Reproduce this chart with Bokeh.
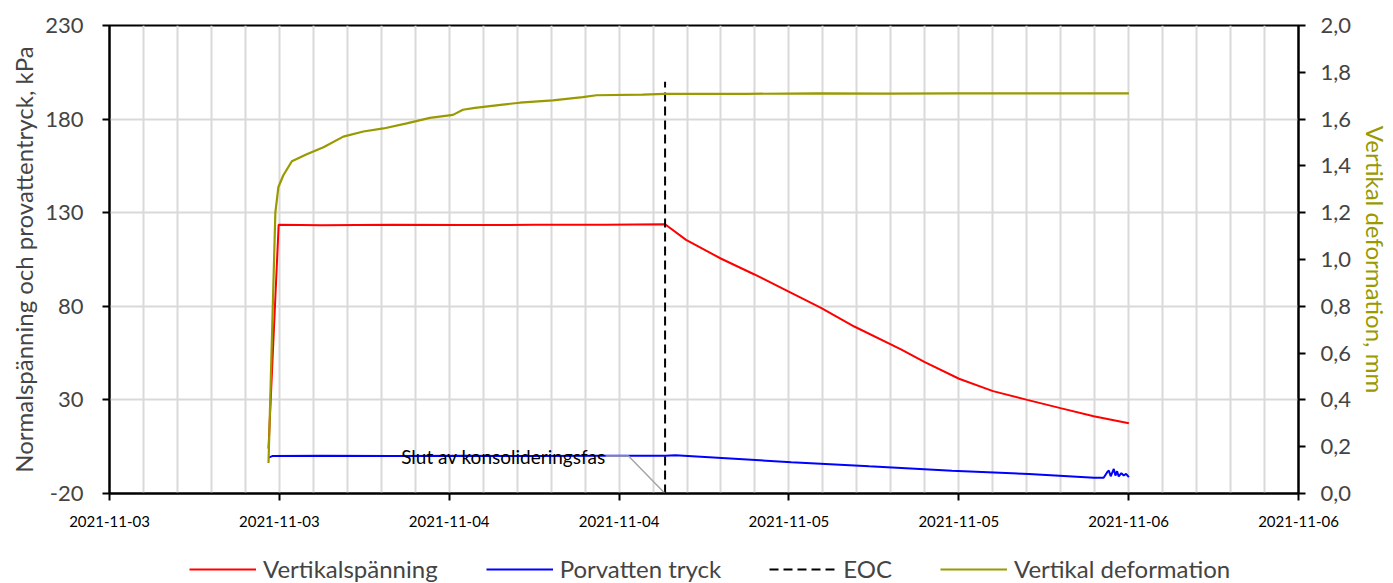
import pandas as pd
from bokeh.plotting import figure
from bokeh.layouts import column
from bokeh.models import (Range1d, LinearAxis, FixedTicker, DatetimeTickFormatter,
                          CustomJSTickFormatter, Legend, LegendItem, Label, ColumnDataSource)
from bokeh.embed import file_html
from bokeh.resources import INLINE

FONT = "Lato"

# ---------------- data ----------------
RED_T = ["2021-11-03 11:14", "2021-11-03 11:57", "2021-11-03 15:00", "2021-11-03 20:00",
         "2021-11-04 01:00", "2021-11-04 06:00", "2021-11-04 11:00", "2021-11-04 15:15",
         "2021-11-04 16:44", "2021-11-04 19:13", "2021-11-04 21:34", "2021-11-04 23:55",
         "2021-11-05 02:16", "2021-11-05 04:37", "2021-11-05 07:55", "2021-11-05 09:36",
         "2021-11-05 12:01", "2021-11-05 14:25", "2021-11-05 16:50", "2021-11-05 19:11",
         "2021-11-05 21:32", "2021-11-06 00:01"]
RED_V = [4, 123.5, 123.3, 123.6, 123.4, 123.5, 123.6, 123.8, 115.5, 105.4, 97.0, 88.1,
         79.2, 69.2, 57.0, 50.2, 41.3, 34.7, 30.0, 25.6, 21.3, 17.5]

BLUE_T = ["2021-11-03 11:14", "2021-11-03 11:30", "2021-11-03 15:00", "2021-11-03 20:00",
          "2021-11-04 01:00", "2021-11-04 06:00", "2021-11-04 11:00", "2021-11-04 15:15",
          "2021-11-04 15:59", "2021-11-05 00:10", "2021-11-05 05:40", "2021-11-05 11:31",
          "2021-11-05 16:57", "2021-11-05 21:34", "2021-11-05 22:14", "2021-11-05 22:29",
          "2021-11-05 22:36", "2021-11-05 22:44", "2021-11-05 22:57", "2021-11-05 23:04",
          "2021-11-05 23:11", "2021-11-05 23:18", "2021-11-05 23:29", "2021-11-05 23:39",
          "2021-11-05 23:49", "2021-11-06 00:01"]
BLUE_V = [-0.8, 0.0, 0.1, 0.0, 0.1, 0.0, 0.1, 0.1, 0.4, -3.3, -5.5, -7.8, -9.6, -11.6,
          -11.6, -8.6, -7.7, -10.8, -6.9, -10.4, -8.1, -10.9, -9.1, -10.4, -9.5, -11.3]

DEF_T = ["2021-11-03 11:14", "2021-11-03 11:30", "2021-11-03 11:43", "2021-11-03 11:56",
         "2021-11-03 12:17", "2021-11-03 12:53", "2021-11-03 13:56", "2021-11-03 15:07",
         "2021-11-03 16:31", "2021-11-03 17:56", "2021-11-03 19:21", "2021-11-03 21:00",
         "2021-11-03 22:38", "2021-11-04 00:16", "2021-11-04 00:58", "2021-11-04 01:49",
         "2021-11-04 03:47", "2021-11-04 04:59", "2021-11-04 07:19", "2021-11-04 09:26",
         "2021-11-04 10:24", "2021-11-04 13:40", "2021-11-04 15:13", "2021-11-04 21:00",
         "2021-11-05 02:00", "2021-11-05 07:00", "2021-11-05 12:00", "2021-11-05 17:00",
         "2021-11-06 00:01"]
DEF_V = [0.13, 0.72, 1.20, 1.31, 1.36, 1.42, 1.45, 1.48, 1.525, 1.547, 1.56, 1.582, 1.605,
         1.618, 1.64, 1.648, 1.662, 1.67, 1.68, 1.694, 1.702, 1.705, 1.708, 1.708, 1.71,
         1.709, 1.71, 1.71, 1.71]

EOC_T = "2021-11-04 15:15"
EOC_Y = [-20, 200]

NOTE_TEXT = "Slut av konsolideringsfas"
NOTE_T = "2021-11-04 11:03"
NOTE_KNEE_T = "2021-11-04 12:40"
NOTE_Y = 0

X_START = "2021-11-03 00:00"
X_END = "2021-11-06 12:00"
Y_LEFT = (-20, 230)
Y_LEFT_TICKS = [-20, 30, 80, 130, 180, 230]
Y_RIGHT = (0, 2.0)
Y_RIGHT_TICKS = [0, 0.2, 0.4, 0.6, 0.8, 1.0, 1.2, 1.4, 1.6, 1.8, 2.0]

LABELS = ["Vertikalspänning", "Porvatten tryck", "EOC", "Vertikal deformation"]
LEFT_TITLE = "Normalspänning och provattentryck, kPa"
RIGHT_TITLE = "Vertikal deformation, mm"

RED = "#ff0000"
BLUE = "#0000ff"
OLIVE = "#999900"
GRID = "#d9d9d9"
EOC_DASH = "9 5"


def ms(s):
    return pd.Timestamp(s).value / 1e6


x0, x1 = ms(X_START), ms(X_END)
HOUR = 3600 * 1000.0

p = figure(width=1393, height=540, output_backend="svg", toolbar_location=None,
           x_axis_type="datetime",
           x_range=Range1d(x0, x1), y_range=Range1d(*Y_LEFT),
           min_border_left=109, min_border_right=93, min_border_top=25, min_border_bottom=47)
p.background_fill_color = "white"
p.border_fill_color = "white"
p.outline_line_color = "black"
p.outline_line_width = 2

p.extra_y_ranges = {"def": Range1d(*Y_RIGHT)}

# grids
p.xgrid.ticker = FixedTicker(ticks=[x0 + i * 2.4 * HOUR for i in range(0, 36)])
p.xgrid.grid_line_color = GRID
p.xgrid.grid_line_width = 2
p.ygrid.grid_line_color = GRID
p.ygrid.grid_line_width = 2

# x axis
xa = p.xaxis[0]
xa.ticker = FixedTicker(ticks=[x0 + i * 12 * HOUR for i in range(0, 8)])
fmt = "%Y-%m-%d"
xa.formatter = DatetimeTickFormatter(milliseconds=fmt, seconds=fmt, minsec=fmt, minutes=fmt,
                                     hourmin=fmt, hours=fmt, days=fmt, months=fmt, years=fmt)
xa.major_label_text_font = FONT
xa.major_label_text_font_size = "15px"
xa.major_label_text_color = "black"
xa.axis_line_width = 2
xa.axis_line_color = "black"
xa.major_tick_line_width = 2
xa.major_tick_out = 7
xa.major_tick_in = 0
xa.minor_tick_line_color = None
xa.major_label_standoff = 15

# left axis
ya = p.yaxis[0]
ya.ticker = FixedTicker(ticks=Y_LEFT_TICKS)
ya.formatter = CustomJSTickFormatter(code="return tick.toString();")
ya.axis_label = LEFT_TITLE
ya.axis_label_text_font = FONT
ya.axis_label_text_font_style = "normal"
ya.axis_label_text_font_size = "24px"
ya.axis_label_standoff = 4
ya.major_label_text_font = FONT
ya.major_label_text_font_size = "22px"
ya.axis_line_width = 2
ya.major_tick_line_width = 2
ya.major_tick_out = 7
ya.major_tick_in = 0
ya.minor_tick_line_color = None
ya.major_label_standoff = 19

# right axis
ra = LinearAxis(y_range_name="def", ticker=FixedTicker(ticks=Y_RIGHT_TICKS),
                formatter=CustomJSTickFormatter(code="return tick.toFixed(1).replace('.', ',');"))
ra.axis_label = RIGHT_TITLE
ra.axis_label_text_color = OLIVE
ra.axis_label_text_font = FONT
ra.axis_label_text_font_style = "normal"
ra.axis_label_text_font_size = "24px"
ra.axis_label_standoff = 7
ra.major_label_text_font = FONT
ra.major_label_text_font_size = "22px"
ra.axis_line_width = 2
ra.major_tick_line_width = 2
ra.major_tick_out = 7
ra.major_tick_in = 0
ra.minor_tick_line_color = None
ra.major_label_standoff = 15
p.add_layout(ra, "right")

# series
red_src = ColumnDataSource(dict(t=pd.to_datetime(RED_T), v=RED_V))
blue_src = ColumnDataSource(dict(t=pd.to_datetime(BLUE_T), v=BLUE_V))
def_src = ColumnDataSource(dict(t=pd.to_datetime(DEF_T), v=DEF_V))
eoc_src = ColumnDataSource(dict(t=pd.to_datetime([EOC_T, EOC_T]), v=EOC_Y))
note_src = ColumnDataSource(dict(t=pd.to_datetime([NOTE_T, NOTE_KNEE_T, EOC_T]),
                                 v=[NOTE_Y, NOTE_Y, Y_LEFT[0]]))

p.line("t", "v", source=red_src, line_color=RED, line_width=2)
p.line("t", "v", source=blue_src, line_color=BLUE, line_width=2)
p.line("t", "v", source=eoc_src, line_color="black", line_width=2, line_dash=EOC_DASH)
p.line("t", "v", source=def_src, line_color=OLIVE, line_width=2.2, y_range_name="def")
p.line("t", "v", source=note_src, line_color="#a6a6a6", line_width=1.5)

p.add_layout(Label(x=ms(NOTE_T), y=NOTE_Y, text=NOTE_TEXT, text_align="right",
                   text_baseline="middle", text_font=FONT, text_font_size="19px",
                   text_color="black"))

# ---------------- legend strip (separate figure below the chart) ----------------
lg = figure(width=1393, height=43, output_backend="svg", toolbar_location=None,
            x_range=Range1d(0, 1), y_range=Range1d(0, 1),
            min_border_left=0, min_border_right=0, min_border_top=0, min_border_bottom=0)
lg.axis.visible = False
lg.grid.visible = False
lg.outline_line_color = None
nan = float("nan")


def legend_line(**kw):
    # placeholder renderer (no visible data) that only provides the legend swatch
    return lg.line("x", "y", source=ColumnDataSource(dict(x=[nan], y=[nan])), **kw)


l_red = legend_line(line_color=RED, line_width=2)
l_blue = legend_line(line_color=BLUE, line_width=2)
l_eoc = legend_line(line_color="black", line_width=2, line_dash=EOC_DASH)
l_def = legend_line(line_color=OLIVE, line_width=2.2)

legend = Legend(items=[LegendItem(label=LABELS[0], renderers=[l_red]),
                       LegendItem(label=LABELS[1], renderers=[l_blue]),
                       LegendItem(label=LABELS[2], renderers=[l_eoc]),
                       LegendItem(label=LABELS[3], renderers=[l_def])],
                orientation="horizontal", location=(80, 0),
                label_text_font=FONT, label_text_font_size="24px",
                label_height=24, glyph_width=67, glyph_height=24, label_standoff=7, spacing=48,
                padding=0, margin=0, border_line_color=None, background_fill_alpha=0)
lg.add_layout(legend, "center")

open("out.html", "w").write(file_html(column(p, lg, spacing=0), INLINE))
